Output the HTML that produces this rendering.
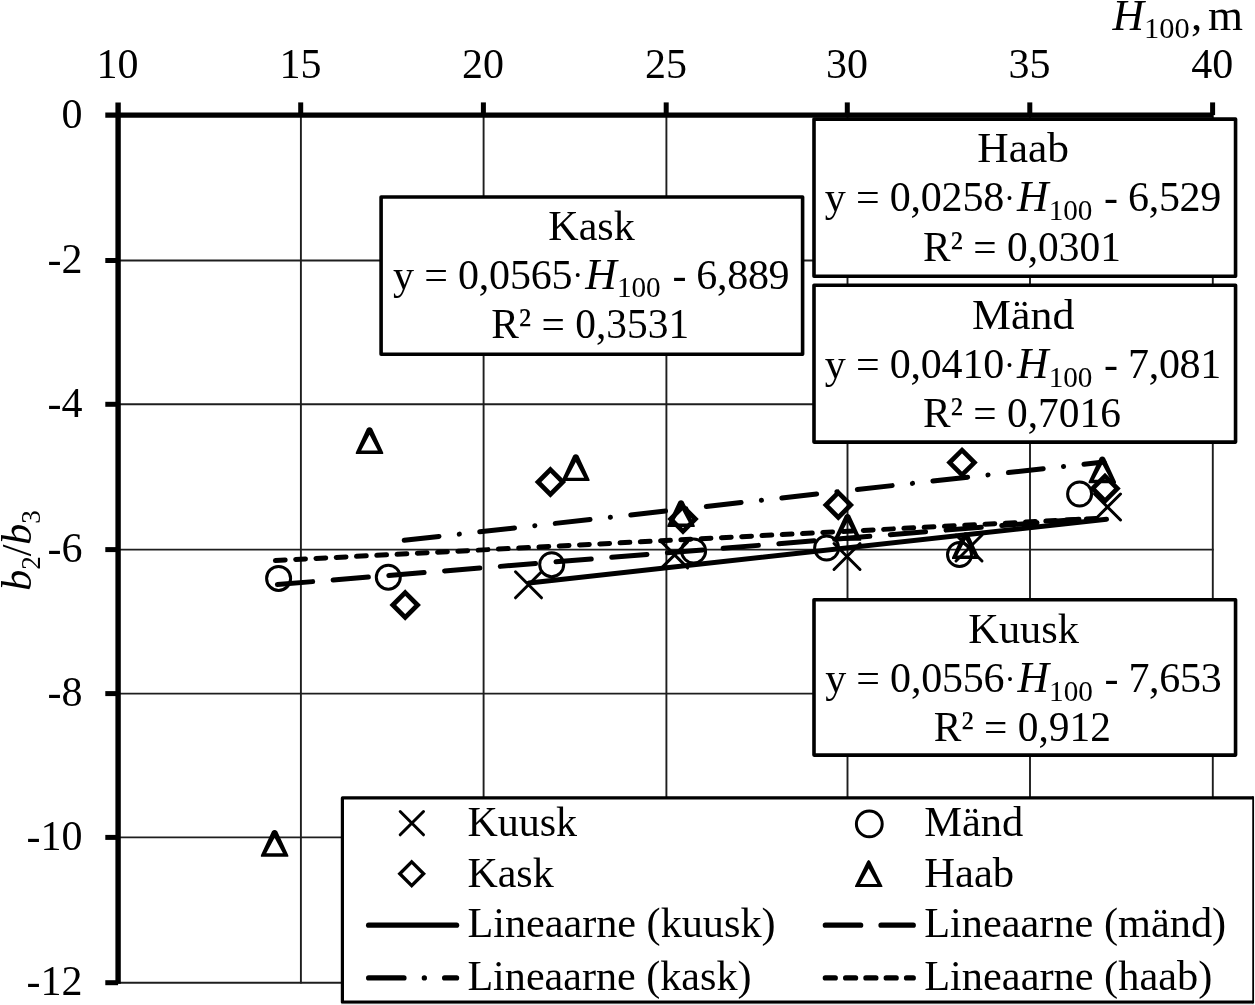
<!DOCTYPE html>
<html lang="et"><head><meta charset="utf-8"><title>b2/b3 – H100</title>
<style>html,body{margin:0;padding:0;background:#fff}body{width:1255px;height:1005px;overflow:hidden}svg{display:block}text{font-family:"Liberation Serif",serif;font-size:42px;fill:#000}.sub{font-size:27px}.it{font-style:italic}.ttl{font-size:43.6px}.ttl .sub{font-size:28.6px}</style></head><body>
<svg width="1255" height="1005" viewBox="0 0 1255 1005">
<rect width="1255" height="1005" fill="#fff"/>
<g stroke="#1e1e1e" stroke-width="1.9" fill="none">
<line x1="300.9" y1="115.1" x2="300.9" y2="983.6"/>
<line x1="483.6" y1="115.1" x2="483.6" y2="983.6"/>
<line x1="666.4" y1="115.1" x2="666.4" y2="983.6"/>
<line x1="847.5" y1="115.1" x2="847.5" y2="983.6"/>
<line x1="1030.0" y1="115.1" x2="1030.0" y2="983.6"/>
<line x1="1212.8" y1="115.1" x2="1212.8" y2="983.6"/>
<line x1="118.1" y1="260.5" x2="1213.7" y2="260.5"/>
<line x1="118.1" y1="404.3" x2="1213.7" y2="404.3"/>
<line x1="118.1" y1="549.6" x2="1213.7" y2="549.6"/>
<line x1="118.1" y1="693.6" x2="1213.7" y2="693.6"/>
<line x1="118.1" y1="837.4" x2="1213.7" y2="837.4"/>
<line x1="118.1" y1="982.7" x2="1213.7" y2="982.7"/>
</g>
<g stroke="#000" stroke-width="5.4" fill="none">
<line x1="105.3" y1="115.1" x2="1213.1" y2="115.1"/>
<line x1="118.1" y1="102.4" x2="118.1" y2="983.7"/>
</g>
<g stroke="#000" stroke-width="5" fill="none">
<line x1="300.7" y1="102.4" x2="300.7" y2="115.1"/>
<line x1="483.4" y1="102.4" x2="483.4" y2="115.1"/>
<line x1="666.2" y1="102.4" x2="666.2" y2="115.1"/>
<line x1="847.3" y1="102.4" x2="847.3" y2="115.1"/>
<line x1="1029.8" y1="102.4" x2="1029.8" y2="115.1"/>
<line x1="1212.6" y1="102.4" x2="1212.6" y2="115.1"/>
<line x1="105.3" y1="260.5" x2="118.1" y2="260.5"/>
<line x1="105.3" y1="404.3" x2="118.1" y2="404.3"/>
<line x1="105.3" y1="549.6" x2="118.1" y2="549.6"/>
<line x1="105.3" y1="693.6" x2="118.1" y2="693.6"/>
<line x1="105.3" y1="837.4" x2="118.1" y2="837.4"/>
<line x1="105.3" y1="982.7" x2="118.1" y2="982.7"/>
</g>
<text x="117.6" y="78.2" text-anchor="middle">10</text>
<text x="300.4" y="78.2" text-anchor="middle">15</text>
<text x="483.1" y="78.2" text-anchor="middle">20</text>
<text x="665.9" y="78.2" text-anchor="middle">25</text>
<text x="847.0" y="78.2" text-anchor="middle">30</text>
<text x="1029.5" y="78.2" text-anchor="middle">35</text>
<text x="1212.3" y="78.2" text-anchor="middle">40</text>
<text x="82.5" y="127.7" text-anchor="end">0</text>
<text x="82.5" y="273.1" text-anchor="end">-2</text>
<text x="82.5" y="416.9" text-anchor="end">-4</text>
<text x="82.5" y="562.2" text-anchor="end">-6</text>
<text x="82.5" y="706.2" text-anchor="end">-8</text>
<text x="82.5" y="850.0" text-anchor="end">-10</text>
<text x="82.5" y="995.3" text-anchor="end">-12</text>
<text class="ttl" x="1243" y="29.6" text-anchor="end"><tspan class="it">H</tspan><tspan style="font-size:30.4px" dy="8">100</tspan><tspan style="font-size:45px" dy="-8" dx="1.2">,</tspan><tspan style="font-size:45px" dx="-5.4"> m</tspan></text>
<text transform="translate(31.2,550.5) rotate(-90)" text-anchor="middle"><tspan class="it">b</tspan><tspan class="sub" dy="8.8">2</tspan><tspan dy="-8.8">/</tspan><tspan class="it">b</tspan><tspan class="sub" dy="8.8">3</tspan></text>
<path d="M515.5 571.8 L541.5 597.8 M515.5 597.8 L541.5 571.8" fill="none" stroke="#000" stroke-width="3" stroke-linecap="round"/>
<path d="M661.6 541.9 L687.6 567.9 M661.6 567.9 L687.6 541.9" fill="none" stroke="#000" stroke-width="3" stroke-linecap="round"/>
<path d="M834.0 543.5 L860.0 569.5 M834.0 569.5 L860.0 543.5" fill="none" stroke="#000" stroke-width="3" stroke-linecap="round"/>
<path d="M956.0 535.0 L982.0 561.0 M956.0 561.0 L982.0 535.0" fill="none" stroke="#000" stroke-width="3" stroke-linecap="round"/>
<path d="M1094.5 494.0 L1120.5 520.0 M1094.5 520.0 L1120.5 494.0" fill="none" stroke="#000" stroke-width="3" stroke-linecap="round"/>
<circle cx="278.6" cy="578.4" r="12" fill="none" stroke="#000" stroke-width="3.0"/>
<circle cx="388.3" cy="577.2" r="12" fill="none" stroke="#000" stroke-width="3.0"/>
<circle cx="551.7" cy="564.7" r="12" fill="none" stroke="#000" stroke-width="3.0"/>
<circle cx="693.6" cy="551.0" r="12" fill="none" stroke="#000" stroke-width="3.0"/>
<circle cx="826.6" cy="548.0" r="12" fill="none" stroke="#000" stroke-width="3.0"/>
<circle cx="959.5" cy="554.5" r="12" fill="none" stroke="#000" stroke-width="3.0"/>
<circle cx="1079.6" cy="494.0" r="12" fill="none" stroke="#000" stroke-width="3.0"/>
<path d="M405.2 592.6 L417.6 605.0 L405.2 617.4 L392.8 605.0 Z" fill="none" stroke="#000" stroke-width="4.7" stroke-linejoin="miter"/>
<path d="M550.4 469.6 L562.8 482.0 L550.4 494.4 L538.0 482.0 Z" fill="none" stroke="#000" stroke-width="4.7" stroke-linejoin="miter"/>
<path d="M683.0 506.6 L695.4 519.0 L683.0 531.4 L670.6 519.0 Z" fill="none" stroke="#000" stroke-width="4.7" stroke-linejoin="miter"/>
<path d="M838.3 492.6 L850.7 505.0 L838.3 517.4 L825.9 505.0 Z" fill="none" stroke="#000" stroke-width="4.7" stroke-linejoin="miter"/>
<path d="M962.0 450.2 L974.4 462.6 L962.0 475.0 L949.6 462.6 Z" fill="none" stroke="#000" stroke-width="4.7" stroke-linejoin="miter"/>
<path d="M1105.0 476.1 L1117.4 488.5 L1105.0 500.9 L1092.6 488.5 Z" fill="none" stroke="#000" stroke-width="4.7" stroke-linejoin="miter"/>
<path d="M260.90 856.80 L260.90 855.20 L272.00 831.20 Q274.60 828.80 277.20 831.20 L288.30 855.20 L288.30 856.80 Z M266.25 853.35 L274.60 837.65 L282.95 853.35 Z" fill="#000" fill-rule="evenodd"/>
<path d="M355.80 454.00 L355.80 452.40 L366.90 428.40 Q369.50 426.00 372.10 428.40 L383.20 452.40 L383.20 454.00 Z M361.15 450.55 L369.50 434.85 L377.85 450.55 Z" fill="#000" fill-rule="evenodd"/>
<path d="M562.10 481.10 L562.10 479.50 L573.20 455.50 Q575.80 453.10 578.40 455.50 L589.50 479.50 L589.50 481.10 Z M567.45 477.65 L575.80 461.95 L584.15 477.65 Z" fill="#000" fill-rule="evenodd"/>
<path d="M667.30 527.00 L667.30 525.40 L678.40 501.40 Q681.00 499.00 683.60 501.40 L694.70 525.40 L694.70 527.00 Z M672.65 523.55 L681.00 507.85 L689.35 523.55 Z" fill="#000" fill-rule="evenodd"/>
<path d="M833.80 540.80 L833.80 539.20 L844.90 515.20 Q847.50 512.80 850.10 515.20 L861.20 539.20 L861.20 540.80 Z M839.15 537.35 L847.50 521.65 L855.85 537.35 Z" fill="#000" fill-rule="evenodd"/>
<path d="M952.00 559.00 L952.00 557.40 L963.10 533.40 Q965.70 531.00 968.30 533.40 L979.40 557.40 L979.40 559.00 Z M957.35 555.55 L965.70 539.85 L974.05 555.55 Z" fill="#000" fill-rule="evenodd"/>
<path d="M1088.60 483.30 L1088.60 481.70 L1099.70 457.70 Q1102.30 455.30 1104.90 457.70 L1116.00 481.70 L1116.00 483.30 Z M1093.95 479.85 L1102.30 464.15 L1110.65 479.85 Z" fill="#000" fill-rule="evenodd"/>
<line x1="529.0" y1="582.9" x2="1106.5" y2="519.3" stroke="#000" stroke-width="5" stroke-linecap="round"/>
<line x1="277.4" y1="584.5" x2="1079.0" y2="519.3" stroke="#000" stroke-width="5" stroke-linecap="round" stroke-dasharray="35.4 20.5"/>
<line x1="404.2" y1="540.3" x2="1104.0" y2="461.9" stroke="#000" stroke-width="5" stroke-linecap="round" stroke-dasharray="35 20.4 0.1 20.5"/>
<line x1="275.4" y1="560.5" x2="1102.0" y2="518.2" stroke="#000" stroke-width="5" stroke-linecap="round" stroke-dasharray="9.8 10.5"/>
<rect x="381.10" y="197.00" width="421.50" height="157.20" fill="#fff" stroke="#000" stroke-width="3.6" stroke-linejoin="round"/>
<text transform="translate(591.5,240.2) scale(1.0,1)" text-anchor="middle">Kask</text>
<text transform="translate(591.2,288.6) scale(1.0,1)" text-anchor="middle"><tspan letter-spacing="-0.2">y = 0,0565</tspan><tspan style="font-size:33px" dy="-2.5">·</tspan><tspan style="font-style:italic;font-size:43.6px" dx="2.0" dy="2.5">H</tspan><tspan style="font-size:29.2px" dy="8.5" dx="0.2">100</tspan><tspan dy="-8.5" letter-spacing="-0.3" dx="1.5"> - 6,889</tspan></text>
<text transform="translate(590.2,337.8) scale(0.986,1)" text-anchor="middle">R² = 0,3531</text>
<rect x="814.00" y="119.10" width="421.55" height="157.20" fill="#fff" stroke="#000" stroke-width="3.6" stroke-linejoin="round"/>
<text transform="translate(1023.2,162.4) scale(1.036,1)" text-anchor="middle">Haab</text>
<text transform="translate(1022.9,211.0) scale(1.0,1)" text-anchor="middle"><tspan letter-spacing="-0.2">y = 0,0258</tspan><tspan style="font-size:33px" dy="-2.5">·</tspan><tspan style="font-style:italic;font-size:43.6px" dx="2.0" dy="2.5">H</tspan><tspan style="font-size:29.2px" dy="8.5" dx="0.2">100</tspan><tspan dy="-8.5" letter-spacing="-0.3" dx="1.5"> - 6,529</tspan></text>
<text transform="translate(1021.9,261.3) scale(0.986,1)" text-anchor="middle">R² = 0,0301</text>
<rect x="814.00" y="285.20" width="421.55" height="156.90" fill="#fff" stroke="#000" stroke-width="3.6" stroke-linejoin="round"/>
<text transform="translate(1023.2,328.8) scale(1.045,1)" text-anchor="middle">Mänd</text>
<text transform="translate(1022.9,378.4) scale(1.0,1)" text-anchor="middle"><tspan letter-spacing="-0.2">y = 0,0410</tspan><tspan style="font-size:33px" dy="-2.5">·</tspan><tspan style="font-style:italic;font-size:43.6px" dx="2.0" dy="2.5">H</tspan><tspan style="font-size:29.2px" dy="8.5" dx="0.2">100</tspan><tspan dy="-8.5" letter-spacing="-0.3" dx="1.5"> - 7,081</tspan></text>
<text transform="translate(1021.9,426.9) scale(0.986,1)" text-anchor="middle">R² = 0,7016</text>
<rect x="814.00" y="599.70" width="421.55" height="155.40" fill="#fff" stroke="#000" stroke-width="3.6" stroke-linejoin="round"/>
<text transform="translate(1023.6,643.0) scale(1.008,1)" text-anchor="middle">Kuusk</text>
<text transform="translate(1023.3,692.0) scale(1.0,1)" text-anchor="middle"><tspan letter-spacing="-0.2">y = 0,0556</tspan><tspan style="font-size:33px" dy="-2.5">·</tspan><tspan style="font-style:italic;font-size:43.6px" dx="2.0" dy="2.5">H</tspan><tspan style="font-size:29.2px" dy="8.5" dx="0.2">100</tspan><tspan dy="-8.5" letter-spacing="-0.3" dx="1.5"> - 7,653</tspan></text>
<text transform="translate(1022.3,741.3) scale(0.986,1)" text-anchor="middle">R² = 0,912</text>
<rect x="342.4" y="797.9" width="910.8" height="204.1" fill="#fff"/>
<path d="M1253.2 797.9 L342.4 797.9 L342.4 1002.15 L1253.2 1002.15" fill="none" stroke="#000" stroke-width="3.2" stroke-linejoin="round"/>
<line x1="1253.15" y1="796.3" x2="1253.15" y2="1003.6" stroke="#000" stroke-width="1.8"/>
<rect x="341" y="1003.8" width="913" height="1.2" fill="#ececec"/>
<path d="M400.2 811.5 L423.5 834.8 M400.2 834.8 L423.5 811.5" fill="none" stroke="#000" stroke-width="3" stroke-linecap="round"/>
<path d="M411.7 861.9 L423.6 873.8 L411.7 885.7 L399.8 873.8 Z" fill="none" stroke="#000" stroke-width="3.4" stroke-linejoin="miter"/>
<circle cx="869.3" cy="823.9" r="12.9" fill="none" stroke="#000" stroke-width="3.0"/>
<path d="M855.00 887.00 L855.00 886.00 L867.10 861.60 Q868.70 858.60 870.30 861.60 L882.40 886.00 L882.40 887.00 Z M860.00 884.00 L868.70 868.60 L877.40 884.00 Z" fill="#000" fill-rule="evenodd"/>
<text transform="translate(467.4,836.2) scale(1.0,1)">Kuusk</text>
<text transform="translate(467.4,886.7) scale(1.0,1)">Kask</text>
<text transform="translate(467.4,937.3) scale(1.005,1)">Lineaarne (kuusk)</text>
<text transform="translate(467.4,989.7) scale(1.003,1)">Lineaarne (kask)</text>
<text transform="translate(924.2,836) scale(1.012,1)">Mänd</text>
<text transform="translate(924.2,886.7) scale(1.015,1)">Haab</text>
<text transform="translate(924.2,937.3) scale(1.008,1)">Lineaarne (mänd)</text>
<text transform="translate(924.2,989.7) scale(1.009,1)">Lineaarne (haab)</text>
<g stroke="#000" stroke-width="5.2" fill="none" stroke-linecap="round">
<line x1="368.6" y1="925.2" x2="456.6" y2="925.2"/>
<line x1="368.6" y1="977.9" x2="456.6" y2="977.9" stroke-dasharray="35.4 20.3 0.1 20.2 12 100"/>
<line x1="825.3" y1="925.2" x2="913.3" y2="925.2" stroke-dasharray="35.4 20.3 32.3 100"/>
<line x1="825.3" y1="977.9" x2="913.3" y2="977.9" stroke-dasharray="10 10.3"/>
</g>
</svg></body></html>
